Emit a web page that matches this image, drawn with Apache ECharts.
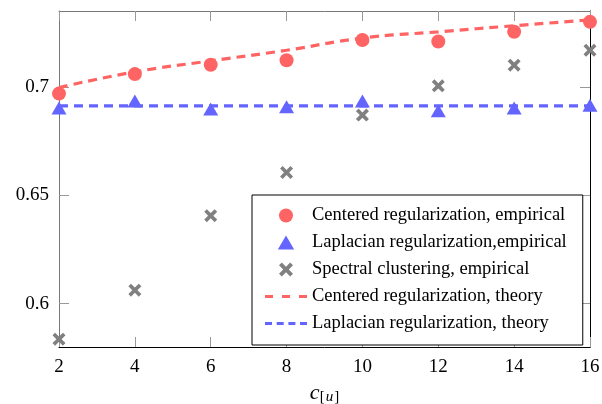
<!DOCTYPE html>
<html>
<head>
<meta charset="utf-8">
<script src="https://cdn.jsdelivr.net/npm/echarts@6/dist/echarts.min.js"></script>
<style>html,body{margin:0;padding:0;background:#fff}#c{width:602px;height:404px}</style>
</head>
<body>
<div id="c"></div>
<script>
const xValues = [2, 4, 6, 8, 10, 12, 14, 16];
const centeredEmpirical = [0.6969, 0.7059, 0.7102, 0.7123, 0.7216, 0.7209, 0.7254, 0.7300];
const laplacianEmpirical = [0.6903, 0.6935, 0.6898, 0.6908, 0.6935, 0.6890, 0.6903, 0.6915];
const spectralEmpirical = [0.5836, 0.6062, 0.6406, 0.6605, 0.6870, 0.7005, 0.7100, 0.7169];
const centeredTheory = [0.6997, 0.7069, 0.7120, 0.7169, 0.7225, 0.7254, 0.7282, 0.7309];
const laplacianTheory = [0.6912, 0.6912, 0.6912, 0.6912, 0.6912, 0.6912, 0.6912, 0.6912];
const yTickValues = [0.6, 0.65, 0.7];
const seriesNames = [
  'Centered regularization, empirical',
  'Laplacian regularization,empirical',
  'Spectral clustering, empirical',
  'Centered regularization, theory',
  'Laplacian regularization, theory'
];

const RED = '#ff6464', BLUE = '#6464ff', GRAY = '#808080';
const crossPath = 'path://M2,0 L5,3 L8,0 L10,2 L7,5 L10,8 L8,10 L5,7 L2,10 L0,8 L3,5 L0,2 Z';
const trianglePath = 'path://M7,0 L14,12 L0,12 Z';
const circlePath = 'path://M7,0 A7,7 0 1 1 6.99,0 Z';
const redDashIcon = 'path://M0,0 h8 v3 h-8 Z M17,0 h8 v3 h-8 Z M34,0 h8 v3 h-8 Z';
const blueDashIcon = 'path://M0,0 h7 v3 h-7 Z M11.7,0 h7 v3 h-7 Z M23.4,0 h7 v3 h-7 Z M35,0 h7 v3 h-7 Z';
const pairs = arr => xValues.map((x, i) => [x, arr[i]]);
const serif = '"Liberation Serif", "DejaVu Serif", serif';

const chart = echarts.init(document.getElementById('c'), null, {renderer: 'canvas'});
chart.setOption({
  animation: false,
  backgroundColor: '#fff',
  grid: {left: 59, right: 12, top: 11, bottom: 57, containLabel: false, outerBoundsMode: 'none'},
  xAxis: [{
    type: 'value', min: 2, max: 16, interval: 2, position: 'bottom',
    axisLine: {show: true, onZero: false, lineStyle: {color: '#000', width: 1}},
    axisTick: {show: true, inside: true, length: 10, lineStyle: {color: '#999', width: 1}},
    axisLabel: {color: '#000', fontFamily: serif, fontSize: 19, margin: 11},
    splitLine: {show: false},
    name: '{c|c}{b|[}{u|u}{b|]}', nameLocation: 'middle', nameGap: 30,
    nameTextStyle: {rich: {
      c: {fontFamily: serif, fontStyle: 'italic', fontSize: 22, color: '#000'},
      b: {fontFamily: serif, fontSize: 15, color: '#000', padding: [9, 0, 0, 0]},
      u: {fontFamily: serif, fontStyle: 'italic', fontSize: 15, color: '#000', padding: [9, 1, 0, 1]}
    }}
  }, {
    type: 'value', min: 2, max: 16, interval: 2, position: 'top',
    axisLine: {show: true, onZero: false, lineStyle: {color: '#777', width: 1}},
    axisTick: {show: true, inside: true, length: 10, lineStyle: {color: '#999', width: 1}},
    axisLabel: {show: false}, splitLine: {show: false}
  }],
  yAxis: [{
    type: 'value', min: 0.58, max: 0.735, position: 'left',
    axisLine: {show: true, onZero: false, lineStyle: {color: '#777', width: 1}},
    axisTick: {show: true, inside: true, length: 10, customValues: yTickValues, lineStyle: {color: '#999', width: 1}},
    axisLabel: {color: '#000', fontFamily: serif, fontSize: 19, margin: 10, customValues: yTickValues,
      formatter: v => String(+v.toFixed(2))},
    splitLine: {show: false}
  }, {
    type: 'value', min: 0.58, max: 0.735, position: 'right',
    axisLine: {show: true, onZero: false, lineStyle: {color: '#000', width: 1}},
    axisTick: {show: true, inside: true, length: 10, customValues: yTickValues, lineStyle: {color: '#999', width: 1}},
    axisLabel: {show: false}, splitLine: {show: false}
  }],
  legend: {
    orient: 'vertical', left: 252, top: 195,
    data: [
      {name: seriesNames[0], icon: circlePath},
      {name: seriesNames[1], icon: trianglePath},
      {name: seriesNames[2], icon: crossPath},
      {name: seriesNames[3], icon: redDashIcon},
      {name: seriesNames[4], icon: blueDashIcon}
    ],
    symbolKeepAspect: true,
    itemWidth: 42, itemHeight: 14, itemGap: 8,
    padding: [11, 16, 12, 13],
    backgroundColor: '#fff', borderColor: '#000', borderWidth: 1, borderRadius: 0,
    textStyle: {fontFamily: serif, fontSize: 18.5, lineHeight: 16, color: '#000'},
    z: 10
  },
  series: [
    {name: seriesNames[0], type: 'scatter', data: pairs(centeredEmpirical), symbol: 'circle', symbolSize: 14,
      itemStyle: {color: RED, opacity: 1}, clip: false, z: 3},
    {name: seriesNames[1], type: 'scatter', data: pairs(laplacianEmpirical), symbol: 'triangle', symbolSize: [15, 13],
      itemStyle: {color: BLUE, opacity: 1}, clip: false, z: 3},
    {name: seriesNames[2], type: 'scatter', data: pairs(spectralEmpirical), symbol: crossPath, symbolSize: 13,
      itemStyle: {color: GRAY, opacity: 1}, clip: false, z: 3},
    {name: seriesNames[3], type: 'line', data: pairs(centeredTheory), smooth: true, symbol: 'none', showSymbol: false,
      lineStyle: {color: RED, width: 3.2, type: [9, 6]}, itemStyle: {color: RED}, z: 4},
    {name: seriesNames[4], type: 'line', data: pairs(laplacianTheory), symbol: 'none', showSymbol: false,
      lineStyle: {color: BLUE, width: 3.2, type: [9, 6]}, itemStyle: {color: BLUE}, z: 4}
  ]
});
</script>
</body>
</html>
